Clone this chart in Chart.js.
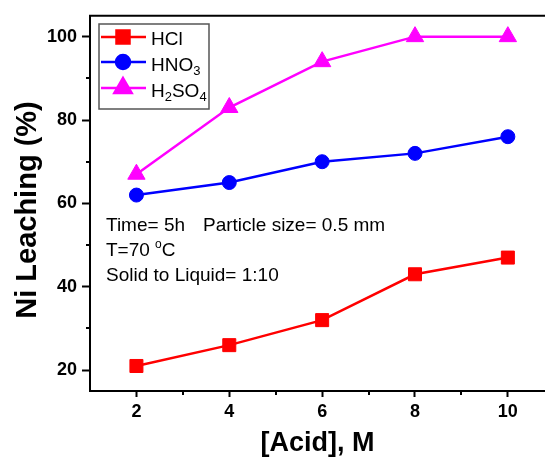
<!DOCTYPE html>
<html>
<head>
<meta charset="utf-8">
<script src="https://cdn.jsdelivr.net/npm/chart.js@4.4.0/dist/chart.umd.min.js"></script>
<style>
  html, body { margin: 0; padding: 0; background: #fff; overflow: hidden; }
  canvas { display: block; }
</style>
</head>
<body>
<canvas id="c" width="545" height="457"></canvas>
<script>
// valeurs
const acid = [2, 4, 6, 8, 10];
const hcl = [21, 26, 32, 43, 47];
const hno3 = [62, 65, 70, 72, 76];
const h2so4 = [67, 83, 94, 100, 100];

const xMajor = [2, 4, 6, 8, 10];
const xMinor = [3, 5, 7, 9];
const yMajor = [20, 40, 60, 80, 100];
const yMinor = [30, 50, 70, 90];

// legende : index pair = texte normal, index impair = indice
const legendParts = [['HCl'], ['HNO', '3'], ['H', '2', 'SO', '4']];
const yTitle = 'Ni Leaching (%)';

const FONT = "'Liberation Sans', Arial, sans-serif";
Chart.defaults.font.family = FONT;
Chart.defaults.color = '#000';

const toPts = ys => acid.map((x, i) => ({x: x, y: ys[i]}));

// cadre du haut, petites graduations, titre Y, légende et texte
const decorPlugin = {
    id: 'decor',
    afterDraw(chart) {
        const ctx = chart.ctx;
        const a = chart.chartArea;
        const xs = chart.scales.x, ys = chart.scales.y;
        ctx.save();
        ctx.strokeStyle = '#000';
        ctx.lineWidth = 2;
        ctx.beginPath();
        ctx.moveTo(a.left - 1, a.top);
        ctx.lineTo(a.right, a.top);
        ctx.stroke();

        // petites graduations
        ctx.beginPath();
        xMinor.forEach(v => {
            const px = Math.round(xs.getPixelForValue(v));
            ctx.moveTo(px, a.bottom);
            ctx.lineTo(px, a.bottom + 4);
        });
        yMinor.forEach(v => {
            const py = Math.round(ys.getPixelForValue(v));
            ctx.moveTo(a.left, py);
            ctx.lineTo(a.left - 4, py);
        });
        ctx.stroke();

        // titre de l'axe Y
        ctx.save();
        ctx.translate(28, 210);
        ctx.rotate(-Math.PI / 2);
        ctx.font = 'bold 29px ' + FONT;
        ctx.textAlign = 'center';
        ctx.textBaseline = 'middle';
        ctx.fillStyle = '#000';
        ctx.fillText(yTitle, 0, 0);
        ctx.restore();

        // légende
        ctx.strokeStyle = '#555';
        ctx.lineWidth = 1.5;
        ctx.strokeRect(99, 24, 110, 85);
        const rowY = [37, 62, 88];
        const baseY = [45, 70.5, 97];
        chart.data.datasets.forEach((ds, i) => {
            ctx.strokeStyle = ds.borderColor;
            ctx.lineWidth = ds.borderWidth;
            ctx.beginPath();
            ctx.moveTo(101, rowY[i]);
            ctx.lineTo(146, rowY[i]);
            ctx.stroke();
            ctx.fillStyle = ds.backgroundColor;
            ctx.strokeStyle = ds.borderColor;
            Chart.helpers.drawPoint(ctx, {
                pointStyle: ds.pointStyle, radius: ds.pointRadius, rotation: 0, borderWidth: 1
            }, 123, rowY[i]);
            let x = 151;
            ctx.fillStyle = '#000';
            ctx.textBaseline = 'alphabetic';
            ctx.textAlign = 'left';
            legendParts[i].forEach((p, k) => {
                if (k % 2 === 0) {
                    ctx.font = '19px ' + FONT;
                    ctx.fillText(p, x, baseY[i]);
                } else {
                    ctx.font = '13px ' + FONT;
                    ctx.fillText(p, x, baseY[i] + 4);
                }
                x += ctx.measureText(p).width;
            });
        });

        // conditions
        ctx.fillStyle = '#000';
        ctx.font = '19px ' + FONT;
        ctx.fillText('Time= 5h', 106, 231);
        ctx.fillText('Particle size= 0.5 mm', 203, 231);
        ctx.fillText('T=70 ', 106, 256);
        let x = 106 + ctx.measureText('T=70 ').width;
        ctx.font = '12px ' + FONT;
        ctx.fillText('o', x, 248);
        x += ctx.measureText('o').width;
        ctx.font = '19px ' + FONT;
        ctx.fillText('C', x, 256);
        ctx.fillText('Solid to Liquid= 1:10', 106, 281);
        ctx.restore();
    }
};

new Chart(document.getElementById('c'), {
    type: 'line',
    data: {
        datasets: [{
            label: 'HCl',
            data: toPts(hcl),
            borderColor: '#ff0000',
            backgroundColor: '#ff0000',
            borderWidth: 2.5,
            pointStyle: 'rect',
            pointRadius: 9.2,
            pointBorderWidth: 1
        }, {
            label: 'HNO3',
            data: toPts(hno3),
            borderColor: '#0000ff',
            backgroundColor: '#0000ff',
            borderWidth: 2.5,
            pointStyle: 'circle',
            pointRadius: 7,
            pointBorderWidth: 1
        }, {
            label: 'H2SO4',
            data: toPts(h2so4),
            borderColor: '#ff00ff',
            backgroundColor: '#ff00ff',
            borderWidth: 2.5,
            pointStyle: 'triangle',
            pointRadius: 10,
            pointBorderWidth: 1
        }]
    },
    options: {
        responsive: false,
        animation: false,
        layout: { autoPadding: false, padding: { top: 15, right: 0, left: 0, bottom: 0 } },
        plugins: { legend: { display: false }, tooltip: { enabled: false } },
        scales: {
            x: {
                type: 'linear',
                min: 1,
                max: 10.8,
                afterBuildTicks: s => { s.ticks = xMajor.map(v => ({value: v})); },
                afterFit: s => { s.height = 66; s.paddingLeft = 0; s.paddingRight = 0; },
                grid: { drawOnChartArea: false, tickLength: 6, tickWidth: 2, tickColor: '#000' },
                border: { color: '#000', width: 2 },
                ticks: { font: { size: 18, weight: 'bold' }, padding: 4, maxRotation: 0 },
                title: {
                    display: true,
                    text: '[Acid], M',
                    font: { size: 27, weight: 'bold', lineHeight: 1 },
                    padding: 0
                }
            },
            y: {
                min: 15,
                max: 105,
                afterBuildTicks: s => { s.ticks = yMajor.map(v => ({value: v})); },
                afterFit: s => { s.width = 90; },
                grid: { drawOnChartArea: false, tickLength: 8, tickWidth: 2, tickColor: '#000' },
                border: { color: '#000', width: 2 },
                ticks: { font: { size: 18, weight: 'bold' }, padding: 5 },
                title: { display: false }
            }
        }
    },
    plugins: [decorPlugin]
});
</script>
</body>
</html>
